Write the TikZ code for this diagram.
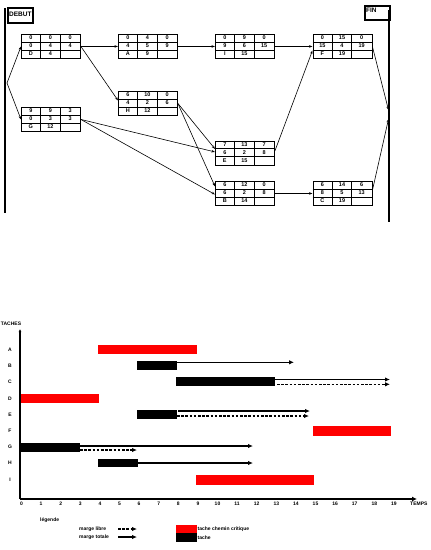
\documentclass[tikz,border=0pt]{standalone}
\usepackage{fontspec}
\setmainfont{Liberation Sans}
\usetikzlibrary{arrows.meta,calc}
\newcommand\pertnode[6]{%
  \node[pbox, anchor=north west] (#1) at (#2,#3) {};
  \draw[pgrid] ($(#1.north west)+(0,8)$) -- ++(59,0);
  \draw[pgrid] ($(#1.north west)+(0,16)$) -- ++(59,0);
  \draw[pgrid] ($(#1.north west)+(19.67,0)$) -- ++(0,24);
  \draw[pgrid] ($(#1.north west)+(39.33,0)$) -- ++(0,24);
  \foreach \a/\b/\c [count=\rr] in {#4,#5,#6}{
    \node[ptxt] (#1-\rr-1) at ($(#1.north west)+(9.83,8*\rr-4)$) {\a};
    \node[ptxt] (#1-\rr-2) at ($(#1.north west)+(29.5,8*\rr-4)$) {\b};
    \node[ptxt] (#1-\rr-3) at ($(#1.north west)+(49.17,8*\rr-4)$) {\c};
  }%
}
\begin{document}
\begin{tikzpicture}[x=1pt,y=-1pt,
  pbox/.style={draw, line width=0.9pt, minimum width=59pt, minimum height=24pt, inner sep=0pt},
  pgrid/.style={line width=0.8pt},
  ptxt/.style={font=\fontsize{5.5}{6}\selectfont\bfseries, inner sep=0pt},
  parr/.style={line width=0.6pt, -{Stealth[length=3.5pt,width=2.5pt]}},
  endbox/.style={draw, line width=1.6pt, minimum width=25pt, minimum height=15pt, inner sep=0pt, anchor=north west},
  boxtxt/.style={font=\fontsize{6.5}{7}\selectfont\bfseries, inner sep=0pt},
  glbl/.style={font=\fontsize{5}{5}\selectfont\bfseries, inner sep=0pt},
  garr/.style={-{Latex[length=5pt,width=4.5pt]}},
  gdash/.style={dash pattern=on 2.6pt off 1.6pt, line width=1.4pt},
  crit/.style={fill=red},
  task/.style={fill=black}]
\useasboundingbox (0,0) rectangle (431,550);

% ---------------- network ----------------
\node[endbox] (deb) at (7,7) {};
\node[boxtxt, anchor=west] (debt) at (9,14) {DEBUT};
\draw[line width=2pt] (5,8) -- (5,213);
\node[endbox, minimum height=14pt] (fin) at (364,5) {};
\node[boxtxt, anchor=north west] (fint) at (366,8) {FIN};
\draw[line width=1.3pt] (389,10) -- (389,222);
\coordinate (s0) at (7,83);
\coordinate (f1) at (388.5,110);
\coordinate (f2) at (388.5,119);

\pertnode{nD}{21}{34}{0/0/0}{0/4/4}{D/4/}
\pertnode{nA}{118}{34}{0/4/0}{4/5/9}{A/9/}
\pertnode{nI}{215}{34}{0/9/0}{9/6/15}{I/15/}
\pertnode{nF}{312.5}{34}{0/15/0}{15/4/19}{F/19/}
\pertnode{nH}{118}{91}{6/10/0}{4/2/6}{H/12/}
\pertnode{nG}{21}{107}{9/9/3}{0/3/3}{G/12/}
\pertnode{nE}{215}{140.5}{7/13/7}{6/2/8}{E/15/}
\pertnode{nB}{215}{181}{6/12/0}{6/2/8}{B/14/}
\pertnode{nC}{312.5}{181}{6/14/6}{8/5/13}{C/19/}

\draw[parr] (s0) -- (nD.west);
\draw[parr] (s0) -- (nG.west);
\draw[parr] (nD.east) -- (nA.west);
\draw[parr] (nD.east) -- ([yshift=3pt]nH.west);
\draw[parr] (nA.east) -- (nI.west);
\draw[parr] (nI.east) -- (nF.west);
\draw[parr] (nF.east) -- (f1);
\draw[parr] (nH.east) -- ([yshift=4pt]nE.west);
\draw[parr] (nH.east) -- ([yshift=7pt]nB.west);
\draw[parr] (nG.east) -- ([yshift=1pt]nE.west);
\draw[parr] (nG.east) -- ([yshift=-1pt]nB.west);
\draw[parr] ([yshift=2pt]nE.east) -- ([yshift=-4pt]nF.west);
\draw[parr] (nB.east) -- (nC.west);
\draw[parr] ([yshift=3pt]nC.east) -- (f2);

% ---------------- Gantt ----------------
\coordinate (o) at (20,499);
\coordinate (ytop) at (20,329);
\coordinate (xend) at (417,499);
\draw[line width=2pt, -{Latex[length=3pt,width=3pt]}] (o) -- (ytop);
\draw[line width=2.4pt, -{Latex[length=5pt,width=5pt]}] (o) -- (xend);
\node[glbl] (taches) at (11,324) {TACHES};
\node[glbl, anchor=west] (temps) at (410,504) {TEMPS};
\foreach \k in {0,...,19}{
  \node[glbl] (t\k) at ({21.5+19.6*\k},504) {\k};
}
\foreach \t/\y in {A/349.5,B/365.5,C/381.5,D/398.5,E/414.5,F/431,G/447,H/463,I/480}{
  \node[glbl] (l\t) at (10,\y) {\t};
}

% bars
\fill[crit] (98,345) rectangle (197,354);
\fill[task] (137,361) rectangle (177,370);
\fill[task] (176,377) rectangle (275,386);
\fill[crit] (21,394) rectangle (99,403);
\fill[task] (137,410) rectangle (177,419);
\fill[crit] (313,426) rectangle (391,436);
\fill[task] (21,443) rectangle (80,451.5);
\fill[task] (98,459) rectangle (138,467);
\fill[crit] (196,475) rectangle (314,485);

% margins
\draw[garr, line width=1.1pt] (177,362.3) -- (294,362.3);
\draw[garr, line width=1.8pt] (275,379.5) -- (390,379.5);
\draw[garr, gdash] (277,384.3) -- (390,384.3);
\draw[garr, line width=1.8pt] (178,411) -- (310,411);
\draw[garr, gdash] (177,416) -- (309,416);
\draw[garr, line width=1.6pt] (80,446) -- (253,446);
\draw[garr, gdash] (80,450) -- (137,450);
\draw[garr, line width=1.6pt] (138,463) -- (253,463);

% legend
\node[glbl, anchor=west] (leg) at (40,520) {légende};
\node[glbl, anchor=west] (ml) at (79,529) {marge libre};
\node[glbl, anchor=west] (mt) at (79,537) {marge totale};
\draw[garr, gdash] (118,529) -- (137,529);
\draw[garr, line width=1.8pt] (118,537) -- (137,537);
\fill[crit] (176,525) rectangle (197,533);
\fill[task] (176,533) rectangle (197,542);
\node[glbl, anchor=west] (tc) at (197.5,529) {tache chemin critique};
\node[glbl, anchor=west] (tt) at (197.5,537.5) {tache};
\end{tikzpicture}
\end{document}
